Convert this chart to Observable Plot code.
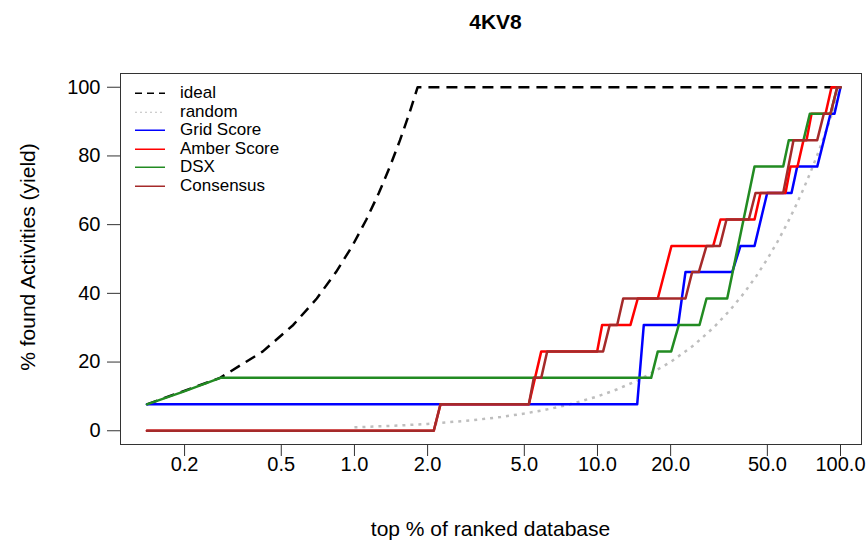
<!DOCTYPE html>
<html><head><meta charset="utf-8">
<script src="https://cdn.jsdelivr.net/npm/d3@7"></script>
<script src="https://cdn.jsdelivr.net/npm/@observablehq/plot@0.6"></script>
<style>
body{margin:0;background:#fff;font-family:"Liberation Sans",Arial,sans-serif;}
#wrap{position:relative;width:867px;height:546px;overflow:hidden;}
#title{position:absolute;left:125px;width:741px;top:9px;text-align:center;font-weight:bold;font-size:21px;line-height:26px;color:#000;}
#xtitle{position:absolute;left:120px;width:741px;top:516px;text-align:center;font-size:21px;line-height:26px;color:#000;}
#ytitle{position:absolute;left:28px;top:257px;transform:translate(-50%,-50%) rotate(-90deg);white-space:nowrap;font-size:21px;line-height:26px;color:#000;}
#legend{position:absolute;left:135px;top:84px;font-size:17px;color:#000;}
.row{display:flex;align-items:center;height:18.5px;}
.row svg{width:30px;height:18.5px;margin-right:15px;}
</style></head>
<body><div id="wrap"><div id="title"></div><div id="xtitle"></div><div id="ytitle"></div><div id="legend"></div></div>
<script>
const titleText = "4KV8";
const xLabel = "top % of ranked database";
const yLabel = "% found Activities (yield)";
const xTicks = [0.2, 0.5, 1, 2, 5, 10, 20, 50, 100];
const xTickLabels = ["0.2", "0.5", "1.0", "2.0", "5.0", "10.0", "20.0", "50.0", "100.0"];
const yTicks = [0, 20, 40, 60, 80, 100];

const seriesNames = ["ideal", "random", "Grid Score", "Amber Score", "DSX", "Consensus"];
const seriesColors = ["#000000", "#BEBEBE", "#0000FF", "#FF0000", "#228B22", "#A52A2A"];
const seriesDash = ["11,7", "3,5", null, null, null, null];

const idealX = [0.14, 0.28, 0.42, 0.56, 0.70, 0.84, 0.98, 1.12, 1.26, 1.40, 1.54, 1.68, 1.82, 100];
const idealY = [7.7, 15.4, 23.1, 30.8, 38.5, 46.2, 53.8, 61.5, 69.2, 76.9, 84.6, 92.3, 100, 100];

const randomX = [1, 1.5, 2, 3, 4, 5, 6, 7, 8, 10, 12, 15, 20, 25, 30, 35, 40, 45, 50, 55, 60, 65, 70, 75, 80, 85, 90, 95, 100];
const randomY = [1, 1.5, 2, 3, 4, 5, 6, 7, 8, 10, 12, 15, 20, 25, 30, 35, 40, 45, 50, 55, 60, 65, 70, 75, 80, 85, 90, 95, 100];

const gridX = [0.14, 14.57, 15.51, 21.48, 23.02, 35.84, 38.77, 44.28, 49.93, 62.86, 66.35, 80.20, 90.96, 94.47, 100];
const gridY = [7.7, 7.7, 30.8, 30.8, 46.2, 46.2, 53.8, 53.8, 69.2, 69.2, 76.9, 76.9, 92.3, 92.3, 100];

const amberX = [0.14, 2.12, 2.26, 5.22, 5.87, 9.97, 10.45, 13.67, 14.65, 17.71, 20.16, 29.94, 32.08, 44.28, 46.86, 59.38, 62.26, 66.53, 70.43, 72.46, 75.99, 86.77, 91.83, 100];
const amberY = [0, 0, 7.7, 7.7, 23.1, 23.1, 30.8, 30.8, 38.5, 38.5, 53.8, 53.8, 61.5, 61.5, 69.2, 69.2, 76.9, 76.9, 84.6, 84.6, 92.3, 92.3, 100, 100];

const dsxX = [0.14, 0.198, 0.281, 16.63, 17.71, 20.11, 21.61, 26.29, 28.10, 34.18, 44.28, 58.10, 61.26, 70.43, 74.78, 90.96, 96.92, 100];
const dsxY = [7.7, 11.4, 15.4, 15.4, 23.1, 23.1, 30.8, 30.8, 38.5, 38.5, 76.9, 76.9, 84.6, 84.6, 92.3, 92.3, 100, 100];

const consX = [0.14, 2.12, 2.26, 5.22, 5.47, 5.87, 6.21, 10.55, 11.23, 12.05, 12.76, 23.02, 24.53, 26.12, 28.10, 31.87, 33.96, 41.94, 44.70, 58.10, 64.06, 80.20, 85.38, 90.96, 96.92, 100];
const consY = [0, 0, 7.7, 7.7, 15.4, 15.4, 23.1, 23.1, 30.8, 30.8, 38.5, 38.5, 46.2, 46.2, 53.8, 53.8, 61.5, 61.5, 69.2, 69.2, 84.6, 84.6, 92.3, 92.3, 100, 100];

const rows = (xs, ys) => xs.map((x, i) => ({x, y: ys[i]}));
const series = [
  rows(idealX, idealY), rows(randomX, randomY), rows(gridX, gridY),
  rows(amberX, amberY), rows(dsxX, dsxY), rows(consX, consY)
];

const lineMarks = series.map((data, i) => Plot.line(data, {
  x: "x", y: "y", stroke: seriesColors[i], strokeWidth: 2.5,
  strokeDasharray: seriesDash[i] || undefined, strokeLinecap: seriesDash[i] ? "butt" : "round"
}));

const chart = Plot.plot({
  width: 867, height: 546,
  marginLeft: 120, marginRight: 6, marginTop: 73, marginBottom: 102,
  style: {fontFamily: "'Liberation Sans', Arial, sans-serif", fontSize: "20px", color: "#000", background: "transparent"},
  x: {type: "log", domain: [0.109, 122]},
  y: {domain: [-4, 104]},
  marks: [
    Plot.axisX({ticks: xTicks, tickSize: 12, tickFormat: () => "", label: null, stroke: "#333"}),
    Plot.text(xTicks, {x: d => d, text: (d, i) => xTickLabels[i], frameAnchor: "bottom", dy: 20,
      lineAnchor: "middle", textAnchor: "middle", fontSize: 20, fill: "#000"}),
    Plot.axisY({ticks: yTicks, tickSize: 13, tickPadding: 7, fontSize: 20, label: null, stroke: "#333"}),
    ...lineMarks,
    Plot.frame({stroke: "#333", strokeWidth: 1})
  ]
});
chart.style.position = "absolute";
chart.style.left = "0px";
chart.style.top = "0px";
const wrap = document.getElementById("wrap");
wrap.insertBefore(chart, wrap.firstChild);
document.getElementById("title").textContent = titleText;
document.getElementById("xtitle").textContent = xLabel;
document.getElementById("ytitle").textContent = yLabel;

const legend = document.getElementById("legend");
seriesNames.forEach((name, i) => {
  const row = document.createElement("div");
  row.className = "row";
  const dash = seriesDash[i] ? `stroke-dasharray="${i === 0 ? '7,5' : '2,3'}"` : "";
  row.innerHTML = `<svg viewBox="0 0 30 18.5"><line x1="0" x2="30" y1="9.25" y2="9.25" stroke="${seriesColors[i]}" stroke-width="${i === 1 ? 1 : 1.5}" ${dash}/></svg><span>${name}</span>`;
  legend.appendChild(row);
});
</script>
</body></html>
